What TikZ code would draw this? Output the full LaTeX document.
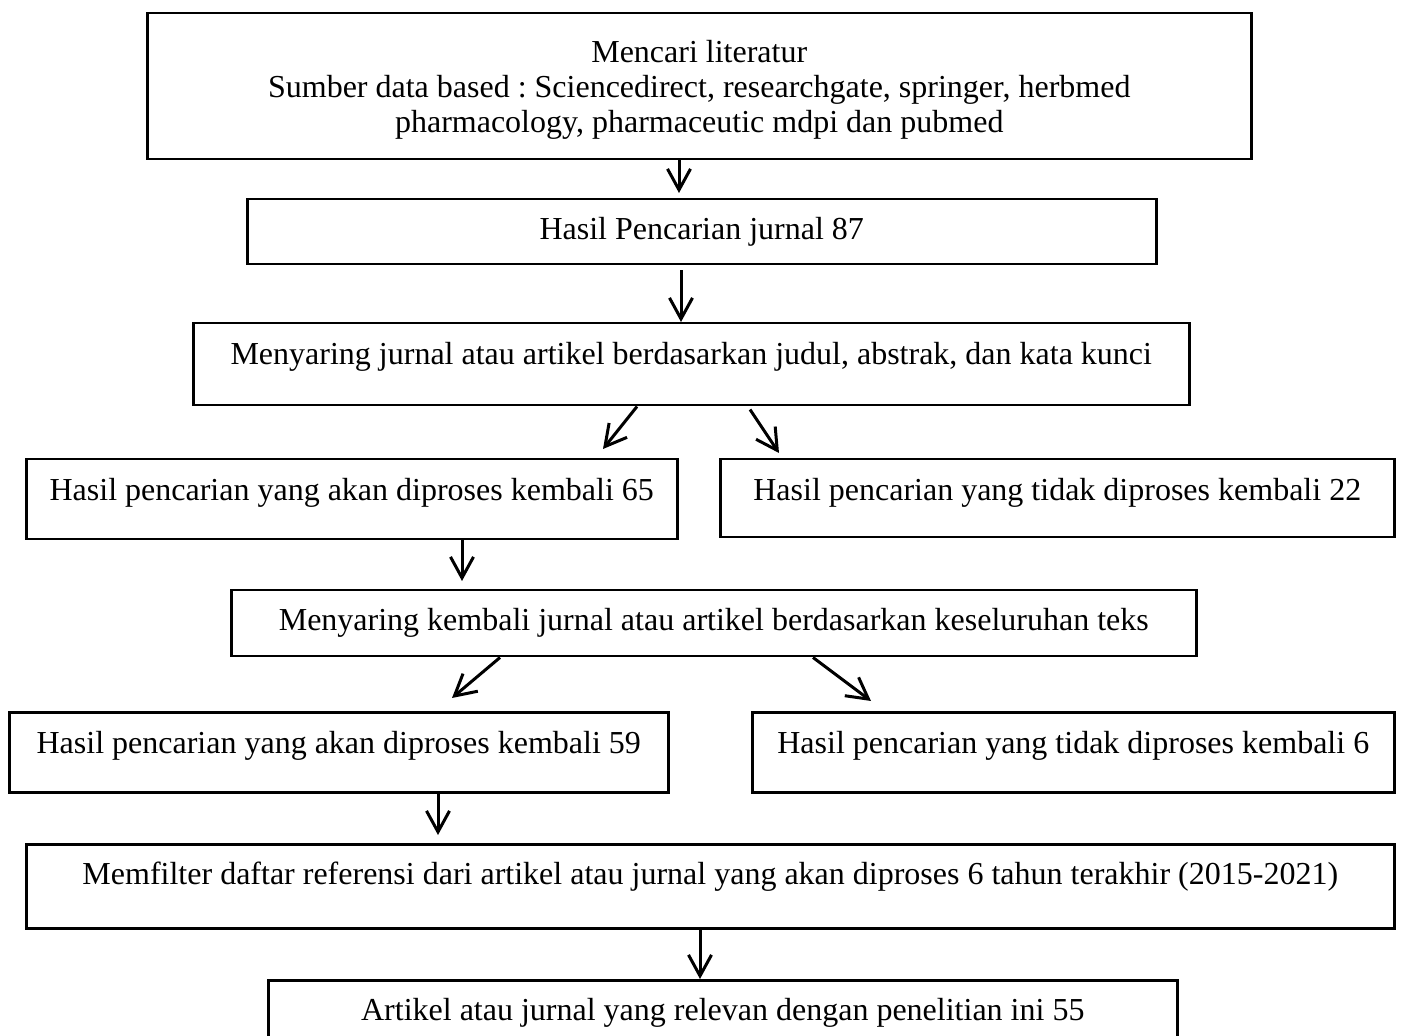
\documentclass[tikz,border=0pt]{standalone}
\usepackage{fontspec}
\setmainfont{Liberation Serif}
\usepackage{tikz}
\usetikzlibrary{arrows.meta, positioning, calc}
\frenchspacing
\tikzstyle{box} = [draw=black, line width=1.25pt, inner xsep=0pt, inner ysep=0pt, anchor=north west, align=center, font=\fontsize{16pt}{17.5pt}\selectfont]
\tikzstyle{arrow} = [line width=1.5pt, -{Straight Barb[length=10.5pt, width=11.5pt]}]

\begin{document}
\begin{tikzpicture}[x=0.5pt, y=-0.5pt]
    \useasboundingbox (0,0) rectangle (1402,1036);

    \node[box, minimum width=552pt, text height=59.5pt, text depth=13.5pt] (lit) at (146,12)
        {Mencari literatur\\Sumber data based : Sciencedirect, researchgate, springer, herbmed\\pharmacology, pharmaceutic mdpi dan pubmed};
    \node[box, minimum width=454.5pt, text height=20pt, text depth=12.5pt] (hasil87) at (246,198) {Hasil Pencarian jurnal 87};
    \node[box, minimum width=498pt, text height=20.5pt, text depth=20.5pt] (saring1) at (192,322) {Menyaring jurnal atau artikel berdasarkan judul, abstrak, dan kata kunci};

    \node[box, minimum width=325.5pt, text height=20.5pt, text depth=19.5pt] (akan65) at (25,458) {Hasil pencarian yang akan diproses kembali 65};
    \node[box, minimum width=337pt, text height=20.5pt, text depth=18.5pt] (tidak22) at (719,458) {Hasil pencarian yang tidak diproses kembali 22};

    \node[box, minimum width=482.5pt, text height=20pt, text depth=13pt] (saring2) at (230,589) {Menyaring kembali jurnal atau artikel berdasarkan keseluruhan teks};

    \node[box, minimum width=329.5pt, text height=20.5pt, text depth=19.5pt] (akan59) at (8,711) {Hasil pencarian yang akan diproses kembali 59};
    \node[box, minimum width=321pt, text height=20.5pt, text depth=19.5pt] (tidak6) at (751,711) {Hasil pencarian yang tidak diproses kembali 6};

    \node[box, minimum width=684pt, text height=20pt, text depth=22pt] (filter) at (25,843) {Memfilter daftar referensi dari artikel atau jurnal yang akan diproses 6 tahun terakhir (2015-2021)};
    \node[box, minimum width=454.5pt, text height=20pt, text depth=19.5pt] (relevan) at (267,979) {Artikel atau jurnal yang relevan dengan penelitian ini 55};

    % connectors
    \draw[arrow, shorten >=2.5pt] (lit.south -| 679,0) -- (hasil87.north -| 679,0);
    \draw[arrow, shorten <=2.5pt] (hasil87.south -| 681,0) -- (saring1.north -| 681,0);
    \draw[arrow] ($(saring1.south west)+(445,0)$) -- ($(akan65.north west)+(578,-9)$);
    \draw[arrow] ($(saring1.south west)+(558,3)$) -- ($(tidak22.north west)+(60,-5)$);
    \draw[arrow, shorten >=4pt] (akan65.south -| 462,0) -- (saring2.north -| 462,0);
    \draw[arrow] ($(saring2.south west)+(270,0)$) -- ($(akan59.north west)+(444,-13)$);
    \draw[arrow] ($(saring2.south west)+(583,0)$) -- ($(tidak6.north west)+(120,-10)$);
    \draw[arrow, shorten >=4pt] (akan59.south -| 438,0) -- (filter.north -| 438,0);
    \draw[arrow] (filter.south -| 700,0) -- (relevan.north -| 700,0);
\end{tikzpicture}
\end{document}
